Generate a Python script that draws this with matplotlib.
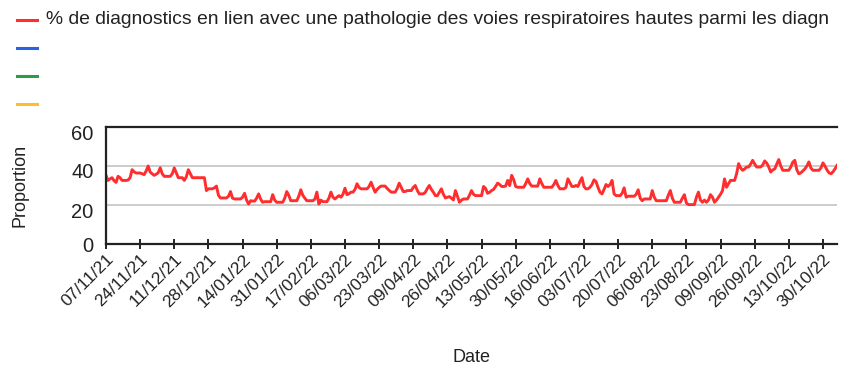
import matplotlib
matplotlib.use("Agg")
import matplotlib.pyplot as plt
import matplotlib.dates as mdates
from matplotlib.lines import Line2D
from matplotlib.transforms import ScaledTranslation
import pandas as pd

plt.rcParams['font.family'] = ['Liberation Sans', 'DejaVu Sans']

# daily share (%) of upper respiratory diagnoses, one row per week
start = "2021-11-07"
proportion = [
    35.2, 32.6, 33.4, 34.0, 32.5, 31.6, 34.7,
    34.0, 32.6, 32.6, 32.6, 32.8, 34.0, 38.1,
    37.0, 36.4, 36.4, 36.4, 36.0, 35.6, 37.5,
    40.0, 36.9, 36.0, 35.2, 35.8, 36.5, 39.1,
    36.0, 34.7, 34.7, 34.7, 34.7, 36.0, 39.0,
    36.5, 34.0, 34.0, 34.0, 32.6, 34.5, 38.1,
    36.0, 34.0, 34.0, 34.0, 34.0, 34.0, 34.0,
    34.0, 27.4, 28.3, 28.3, 28.3, 28.8, 29.7,
    25.0, 23.6, 23.6, 23.6, 23.6, 24.5, 26.9,
    23.5, 23.1, 23.1, 23.1, 23.1, 24.0, 26.0,
    22.5, 20.5, 22.2, 22.0, 22.0, 23.5, 25.7,
    23.0, 21.4, 21.7, 21.7, 21.7, 21.7, 25.3,
    22.5, 21.4, 21.4, 21.4, 21.4, 23.5, 26.9,
    25.0, 22.2, 22.2, 22.2, 22.2, 24.5, 27.8,
    25.0, 23.5, 22.2, 22.2, 22.2, 22.2, 23.0,
    26.6, 20.5, 22.5, 21.7, 21.7, 21.7, 23.5,
    26.6, 24.0, 23.1, 24.0, 24.8, 24.0, 25.5,
    28.6, 25.3, 25.8, 26.6, 26.6, 28.0, 30.9,
    29.0, 28.3, 28.3, 28.3, 28.3, 29.5, 31.7,
    29.0, 26.6, 28.0, 29.0, 29.7, 29.7, 29.7,
    28.5, 27.5, 26.6, 26.6, 26.6, 28.5, 31.2,
    29.0, 26.9, 26.9, 27.4, 27.4, 27.4, 29.0,
    30.0, 27.5, 25.7, 25.7, 25.7, 26.5, 28.5,
    30.0, 28.0, 26.6, 24.8, 24.8, 26.5, 28.3,
    25.5, 23.6, 24.0, 24.3, 23.5, 22.6, 27.4,
    24.5, 21.4, 22.5, 23.1, 23.1, 23.1, 25.0,
    27.4, 25.5, 24.8, 24.8, 24.8, 24.8, 29.5,
    28.5, 26.0, 26.5, 27.4, 28.0, 29.5, 31.2,
    30.5, 29.5, 29.5, 29.7, 32.6, 30.0, 35.2,
    33.0, 29.5, 29.1, 29.1, 29.1, 29.1, 31.0,
    33.4, 31.0, 29.7, 29.7, 29.7, 29.7, 33.4,
    31.0, 29.1, 29.1, 29.1, 29.1, 29.1, 30.5,
    32.6, 30.0, 28.3, 28.3, 28.3, 29.0, 33.4,
    31.5, 29.5, 29.5, 30.0, 29.5, 32.0, 34.0,
    29.5, 28.3, 28.3, 29.1, 30.5, 32.9, 32.0,
    29.0, 26.5, 25.7, 28.0, 30.5, 29.5, 30.5,
    32.6, 25.7, 24.8, 24.8, 24.8, 26.0, 28.8,
    24.0, 24.5, 24.5, 24.5, 24.5, 25.5, 27.8,
    23.5, 22.2, 23.1, 23.1, 23.1, 23.1, 27.4,
    24.0, 22.2, 22.2, 22.2, 22.2, 22.2, 22.2,
    25.0, 27.4, 23.5, 21.4, 21.4, 21.4, 21.4,
    23.5, 25.3, 21.0, 20.2, 20.2, 20.2, 20.2,
    24.0, 26.6, 22.5, 21.4, 22.5, 21.4, 22.5,
    25.3, 24.0, 21.4, 22.5, 24.0, 25.5, 27.4,
    33.4, 29.1, 31.0, 32.6, 32.6, 32.6, 36.0,
    41.2, 39.0, 37.8, 38.5, 39.5, 39.5, 41.0,
    42.9, 41.0, 39.5, 39.5, 39.5, 40.5, 42.6,
    41.5, 39.5, 36.9, 38.0, 38.5, 41.0, 43.3,
    40.0, 37.8, 37.8, 37.8, 37.8, 39.5, 42.0,
    42.9, 38.0, 36.0, 36.5, 37.5, 38.5, 40.0,
    42.1, 39.0, 37.8, 37.8, 37.8, 37.8, 39.0,
    41.6, 40.0, 38.0, 36.5, 36.0, 37.0, 38.5,
    40.3,
]
dates = pd.date_range(start, periods=len(proportion), freq="D")

# legend entries (the label is cut short in the legend area)
series_labels = [
    "% de diagnostics en lien avec une pathologie des voies respiratoires hautes parmi les diagn",
    "", "", "",
]
series_colors = ["#ff2d2d", "#2a62e6", "#2e9a4a", "#fbc02d"]

tick_dates = pd.date_range(start, periods=22, freq="17D")
y_ticks = [0, 20, 40, 60]

W, H = 847, 365
fig = plt.figure(figsize=(W / 100, H / 100), dpi=100)
ax = fig.add_axes([106 / W, 1 - 244 / H, (837 - 106) / W, (244 - 127) / H])

ax.plot(dates, proportion, color=series_colors[0], lw=2.1, solid_joinstyle="round")

ax.set_xlim(dates[0], dates[-1])
ax.set_ylim(0, 60)
ax.set_yticks(y_ticks)
ax.set_xticks(tick_dates)
ax.xaxis.set_major_formatter(mdates.DateFormatter("%d/%m/%y"))

for y in y_ticks[1:-1]:
    ax.axhline(y, color="#cccccc", lw=1.4, zorder=0)

for side in ["top", "left", "bottom"]:
    ax.spines[side].set_color("#222222")
    ax.spines[side].set_linewidth(1.6)
ax.spines["right"].set_visible(False)

ax.tick_params(axis="y", length=0, pad=9, labelsize=14.5, labelcolor="#222222")
ax.tick_params(axis="x", direction="inout", length=7, width=1.4, color="#222222",
               pad=2, labelsize=12.5, labelcolor="#222222")
for lbl in ax.get_xticklabels():
    lbl.set_rotation(45)
    lbl.set_ha("right")
    lbl.set_va("top")
    lbl.set_rotation_mode("anchor")

# y labels sit a little below their gridlines
shift = ScaledTranslation(0, -5 / 100, fig.dpi_scale_trans)
for lbl in ax.get_yticklabels()[1:]:
    lbl.set_transform(lbl.get_transform() + shift)

ax.set_xlabel("Date", fontsize=13, color="#222222", labelpad=28)
ax.set_ylabel("Proportion", fontsize=13, color="#222222", labelpad=31)

# legend column in the top-left corner
for i, (lab, col) in enumerate(zip(series_labels, series_colors)):
    yc = 1 - (20 + 28 * i) / H
    fig.add_artist(Line2D([17 / W, 37 / W], [yc, yc], color=col, lw=2.2,
                          transform=fig.transFigure))
    if lab:
        fig.text(46 / W, yc, lab, fontsize=13.9, color="#222222",
                 va="center", ha="left")

fig.savefig("out.png", dpi=100)
